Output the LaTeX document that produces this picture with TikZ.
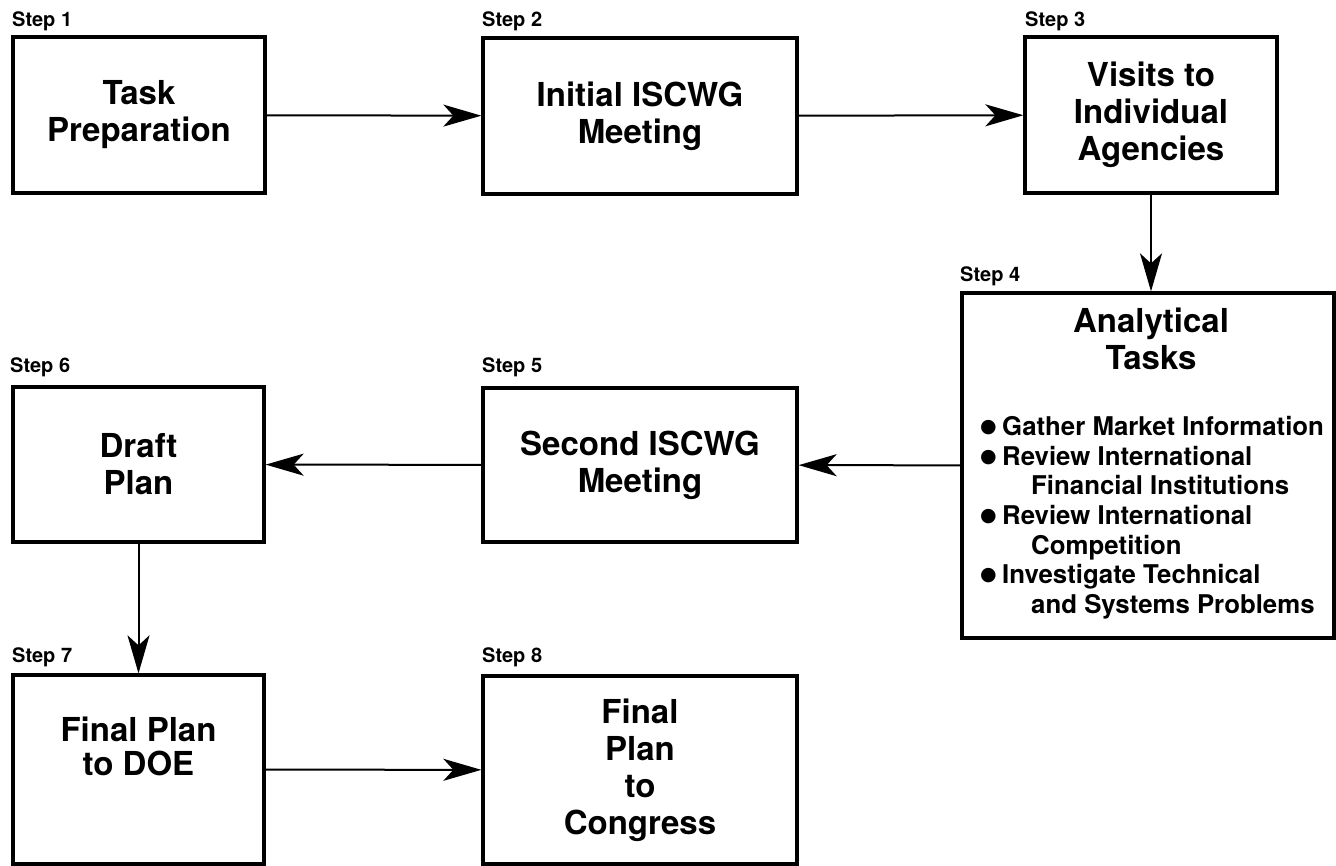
\documentclass[tikz,border=0pt]{standalone}
\usepackage{fontspec}
\setmainfont{TeX Gyre Heros}
\newfontfamily\symfont{DejaVu Sans}
\usetikzlibrary{arrows.meta}
\newcommand{\bul}{\makebox[22pt][l]{\raisebox{3pt}{\symfont\fontsize{19}{19}\selectfont ●}}}
\newcommand{\cont}{\hspace*{51pt}}
\tikzset{
  box/.style={draw, line width=3.3pt, inner sep=0pt, align=center,
    font=\fontsize{33}{37}\selectfont\bfseries},
  boxtext/.style={inner sep=0pt, align=center, font=\fontsize{33}{37}\selectfont\bfseries},
  steplabel/.style={anchor=base west, inner sep=0pt, font=\fontsize{20}{20}\selectfont\bfseries},
  conn/.style={line width=2pt, -{Stealth[length=38pt, width=22pt, inset=10pt]}},
}
\begin{document}
\begin{tikzpicture}[x=1pt,y=-1pt]
\useasboundingbox (0,0) rectangle (1336,866);
% boxes
\node[box, minimum width=252pt, minimum height=156pt] (b1) at (139,115) {Task\\Preparation};
\node[box, minimum width=314pt, minimum height=156pt] (b2) at (640,116) {Initial ISCWG\\Meeting};
\node[box, minimum width=252pt, minimum height=156pt] (b3) at (1151,115) {Visits to\\Individual\\Agencies};
\node[box, minimum width=372pt, minimum height=345pt] (b4) at (1148,465.5) {};
\node[box, minimum width=314pt, minimum height=154pt] (b5) at (640,465) {Second ISCWG\\Meeting};
\node[box, minimum width=251pt, minimum height=155pt] (b6) at (138.5,464.5) {Draft\\Plan};
\node[box, minimum width=251pt, minimum height=189pt] (b7) at (138.5,769.5) {};
\node[box, minimum width=314pt, minimum height=188pt] (b8) at (640,770) {Final\\Plan\\to\\Congress};
% texts placed separately
\node[boxtext] (t4) at (1151,339) {Analytical\\Tasks};
\node[boxtext, font=\fontsize{33}{34}\selectfont\bfseries] (t7) at (138.5,746) {Final Plan\\to DOE};
\node[anchor=north west, inner sep=0pt, align=left,
      font=\fontsize{25.8}{29.7}\selectfont\bfseries] (l4) at (980,416)
  {\bul Gather Market Information\\
   \bul Review International\\
   \cont Financial Institutions\\
   \bul Review International\\
   \cont Competition\\
   \bul Investigate Technical\\
   \cont and Systems Problems};
% step labels
\node[steplabel] (s1) at (12,27) {Step 1};
\node[steplabel] (s2) at (482,27) {Step 2};
\node[steplabel] (s3) at (1025,27) {Step 3};
\node[steplabel] (s4) at (960,282) {Step 4};
\node[steplabel] (s5) at (482,373) {Step 5};
\node[steplabel] (s6) at (10,373) {Step 6};
\node[steplabel] (s7) at (12,662) {Step 7};
\node[steplabel] (s8) at (482,662) {Step 8};
% connectors
\draw[conn] (b1) -- (b2);
\draw[conn] (b2) -- (b3);
\draw[conn] (b3.south) -- (b3.south |- b4.north);
\draw[conn] (b4) -- (b5);
\draw[conn] (b5) -- (b6);
\draw[conn] (b6) -- (b7);
\draw[conn] (b7) -- (b8);
\end{tikzpicture}
\end{document}
